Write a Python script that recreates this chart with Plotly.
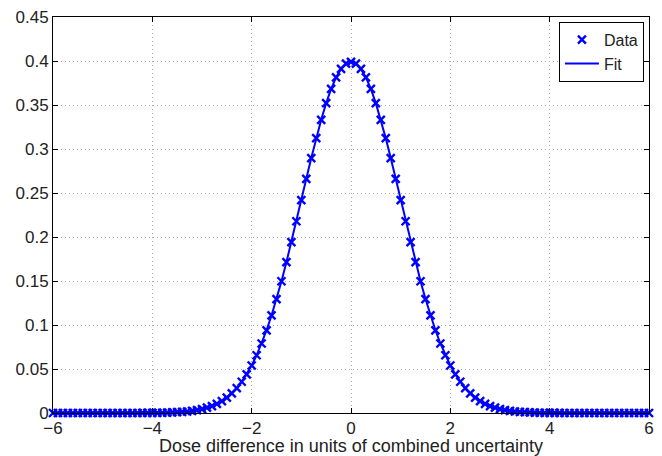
import plotly.graph_objects as go

# x positions in steps of 0.1 from -6 to 6
x_vals = [round(-6 + 0.1 * i, 1) for i in range(121)]

# Right half values (x = 0.0 .. 6.0)
half_data = [0.3989, 0.3970, 0.3910, 0.3814, 0.3683, 0.3521, 0.3332, 0.3123, 0.2897, 0.2661,
             0.2420, 0.2179, 0.1942, 0.1714, 0.1497, 0.1295, 0.1109, 0.0940, 0.0790, 0.0656,
             0.0540, 0.0440, 0.0355, 0.0283, 0.0224, 0.0175, 0.0136, 0.0104, 0.0079, 0.0060,
             0.0044, 0.0033, 0.0024, 0.0017, 0.0012, 0.0009, 0.0006, 0.0004, 0.0003, 0.0002,
             0.0001, 0.0001, 0.0001, 0.0, 0.0, 0.0, 0.0, 0.0, 0.0, 0.0,
             0.0, 0.0, 0.0, 0.0, 0.0, 0.0, 0.0, 0.0, 0.0, 0.0, 0.0]
data_y = half_data[:0:-1] + half_data
fit_y = list(data_y)

xticks = [-6, -4, -2, 0, 2, 4, 6]
xtick_text = ["\u22126", "\u22124", "\u22122", "0", "2", "4", "6"]
yticks = [0, 0.05, 0.1, 0.15, 0.2, 0.25, 0.3, 0.35, 0.4, 0.45]
ytick_text = ["0", "0.05", "0.1", "0.15", "0.2", "0.25", "0.3", "0.35", "0.4", "0.45"]

blue = "#0000ff"
font_family = "Liberation Sans, Arial, sans-serif"
fig = go.Figure()
fig.add_trace(go.Scatter(x=x_vals, y=data_y, mode="markers", name="Data",
                         marker=dict(symbol="x-thin", size=8, line=dict(color=blue, width=2.4), color=blue),
                         cliponaxis=False))
fig.add_trace(go.Scatter(x=x_vals, y=fit_y, mode="lines", name="Fit",
                         line=dict(color=blue, width=2), cliponaxis=False))

axis_common = dict(showline=True, linecolor="black", linewidth=1, mirror="ticks",
                   ticks="inside", ticklen=5, tickcolor="black", showgrid=True,
                   gridcolor="#a8a8a8", griddash="1px,3px", gridwidth=1, zeroline=False,
                   automargin=False,
                   tickfont=dict(family=font_family, size=17, color="#222"))

fig.update_xaxes(range=[-6, 6], tickvals=xticks, ticktext=xtick_text,
                 title=dict(text="Dose difference in units of combined uncertainty",
                            font=dict(family=font_family, size=18, color="#222"),
                            standoff=0),
                 ticklabelstandoff=0,
                 **axis_common)
fig.update_yaxes(range=[0, 0.45], tickvals=yticks, ticktext=ytick_text,
                 ticklabelstandoff=0, **axis_common)

fig.update_layout(width=662, height=456, margin=dict(l=53, r=13, t=17, b=43),
                  plot_bgcolor="white", paper_bgcolor="white",
                  legend=dict(x=0.9915, y=0.988, xanchor="right", yanchor="top",
                              bordercolor="black", borderwidth=1, bgcolor="white",
                              font=dict(family=font_family, size=16, color="#222"),
                              tracegroupgap=0, itemwidth=34),
                  showlegend=True)

fig.write_html("out.html")
